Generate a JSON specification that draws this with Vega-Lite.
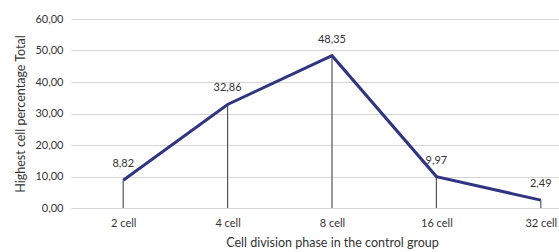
{
  "$schema": "https://vega.github.io/schema/vega-lite/v6.json",
  "autosize": {"type": "none"},
  "width": 522,
  "height": 189,
  "padding": {"left": 71, "top": 19, "right": 0, "bottom": 44},
  "background": "white",
  "config": {
    "locale": {"number": {"decimal": ",", "thousands": ".", "grouping": [3], "currency": ["", ""]}},
    "view": {"stroke": null},
    "font": "Lato"
  },
  "data": {
    "values": [
      {"phase": "2 cell", "value": 8.82},
      {"phase": "4 cell", "value": 32.86},
      {"phase": "8 cell", "value": 48.35},
      {"phase": "16 cell", "value": 9.97},
      {"phase": "32 cell", "value": 2.49}
    ]
  },
  "encoding": {
    "x": {
      "field": "phase",
      "type": "ordinal",
      "sort": null,
      "scale": {"type": "point", "padding": 0.5},
      "axis": {
        "title": "Cell division phase in the control group",
        "titleFontSize": 12.5,
        "titleFontWeight": "normal",
        "titleColor": "#333333",
        "titlePadding": 8,
        "labelAngle": 0,
        "labelFontSize": 11,
        "labelColor": "#333333",
        "labelPadding": 9,
        "ticks": false,
        "domain": false,
        "grid": false
      }
    },
    "y": {
      "field": "value",
      "type": "quantitative",
      "scale": {"domain": [0, 60], "nice": false},
      "axis": {
        "title": "Highest cell percentage Total",
        "titleFontSize": 12.5,
        "titleFontWeight": "normal",
        "titleColor": "#333333",
        "titlePadding": 7,
        "values": [0, 10, 20, 30, 40, 50, 60],
        "format": ".2f",
        "labelFontSize": 11,
        "labelColor": "#333333",
        "labelPadding": 8,
        "ticks": false,
        "domain": false,
        "grid": true,
        "gridColor": "#d4d4d4",
        "gridWidth": 1
      }
    }
  },
  "layer": [
    {
      "mark": {"type": "rule", "color": "#555555", "strokeWidth": 1.2},
      "encoding": {"y2": {"datum": 0}}
    },
    {
      "mark": {"type": "line", "color": "#2f3580", "strokeWidth": 3}
    },
    {
      "mark": {"type": "text", "dy": -16, "fontSize": 11, "color": "#333333", "baseline": "middle"},
      "encoding": {"text": {"field": "value", "type": "quantitative", "format": ".2f"}}
    }
  ]
}
